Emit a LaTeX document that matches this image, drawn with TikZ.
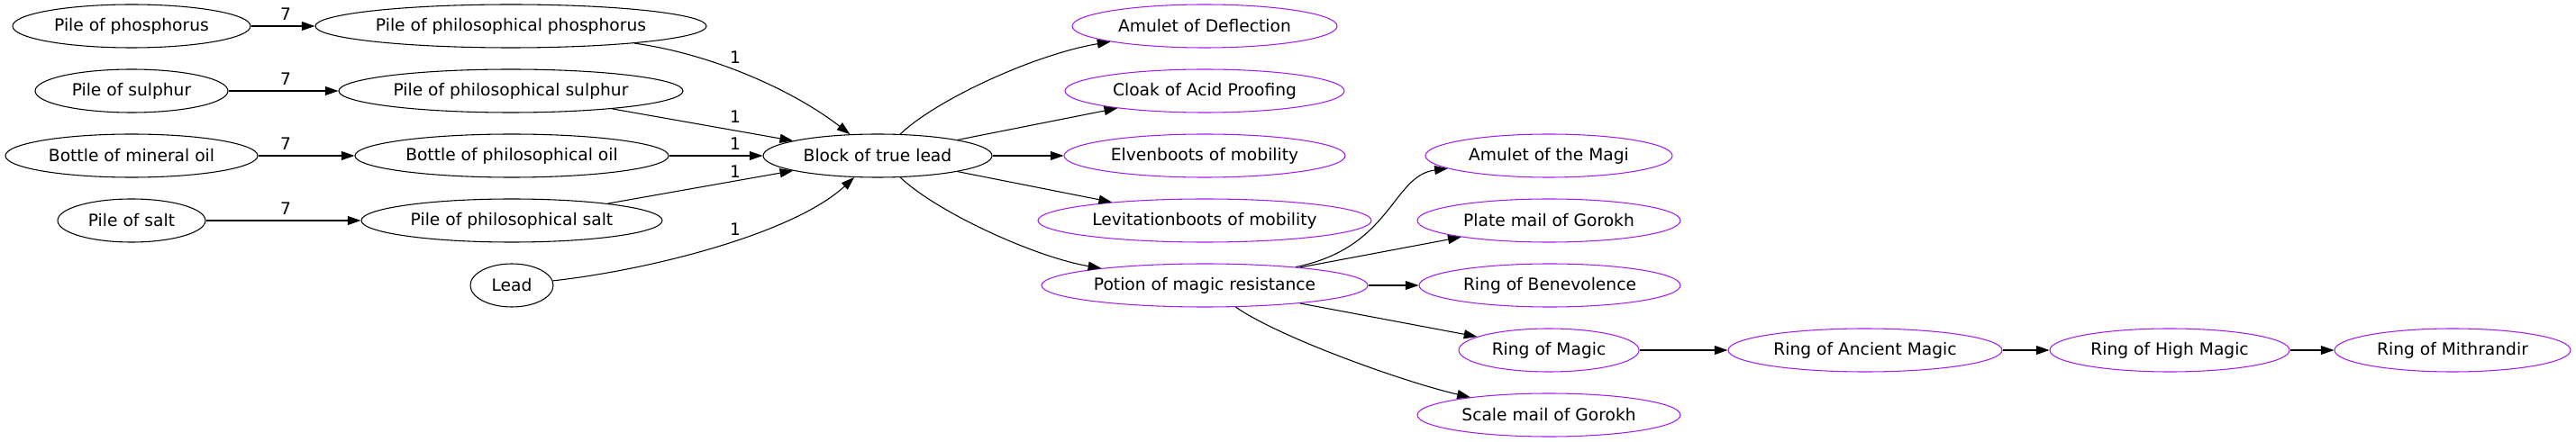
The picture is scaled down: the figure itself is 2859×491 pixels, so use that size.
\documentclass[tikz,border=0pt]{standalone}
\usepackage{fontspec}
\setmainfont{DejaVu Sans}
\usetikzlibrary{shapes.geometric,arrows.meta}
\definecolor{gvpurple}{HTML}{A020F0}
\begin{document}
\begin{tikzpicture}[x=0.75pt,y=-0.75pt,
  every node/.style={font=\fontsize{14}{16}\selectfont},
  nd/.style={ellipse,draw=black,line width=0.8pt,inner sep=0pt,minimum height=36pt,minimum width=#1*1.5pt},
  pd/.style={nd=#1,draw=gvpurple},
  lbl/.style={inner sep=0pt},
  edge/.style={line width=0.8pt,-{Triangle[length=11pt,width=7.5pt]}}]
\useasboundingbox[fill=white] (0,0) rectangle (2859,491);
% column 1
\node[nd=132] (pho) at (146,29) {Pile of phosphorus};
\node[nd=107] (sul) at (146,101) {Pile of sulphur};
\node[nd=140] (min) at (146,173) {Bottle of mineral oil};
\node[nd=82] (salt) at (146,245) {Pile of salt};
% column 2
\node[nd=217] (ppho) at (567,29) {Pile of philosophical phosphorus};
\node[nd=191] (psul) at (567,101) {Pile of philosophical sulphur};
\node[nd=174] (poil) at (568,173) {Bottle of philosophical oil};
\node[nd=167] (psalt) at (568,245) {Pile of philosophical salt};
\node[nd=46] (lead) at (568,317) {Lead};
% block
\node[nd=127] (block) at (974,173) {Block of true lead};
% column 4
\node[pd=147] (defl) at (1337,29) {Amulet of Deflection};
\node[pd=155] (cloak) at (1337,101) {Cloak of Acid Proofing};
\node[pd=156] (elven) at (1337,173) {Elvenboots of mobility};
\node[pd=185] (levit) at (1337,245) {Levitationboots of mobility};
\node[pd=181] (potion) at (1337,317) {Potion of magic resistance};
% column 5
\node[pd=137] (magi) at (1719,173) {Amulet of the Magi};
\node[pd=146] (plate) at (1719,245) {Plate mail of Gorokh};
\node[pd=145] (benev) at (1720,317) {Ring of Benevolence};
\node[pd=100] (rmagic) at (1719,389) {Ring of Magic};
\node[pd=146] (scale) at (1719,461) {Scale mail of Gorokh};
% ring chain
\node[pd=152] (ancient) at (2070,389) {Ring of Ancient Magic};
\node[pd=133] (high) at (2408,389) {Ring of High Magic};
\node[pd=131] (mith) at (2722,389) {Ring of Mithrandir};
% edges col1 -> col2
\draw[edge] (pho) -- (ppho);
\draw[edge] (sul) -- (psul);
\draw[edge] (min) -- (poil);
\draw[edge] (salt) -- (psalt);
\node[lbl] (l7a) at (317,16) {7};
\node[lbl] (l7b) at (317,88) {7};
\node[lbl] (l7c) at (317,160) {7};
\node[lbl] (l7d) at (317,232) {7};
% edges into block
\draw[edge] (ppho) .. controls (790,60) and (880,100) .. (block);
\draw[edge] (psul) -- (block);
\draw[edge] (poil) -- (block);
\draw[edge] (psalt) -- (block);
\draw[edge] (lead) .. controls (720,300) and (880,260) .. (block);
\node[lbl] (l1a) at (816,64) {1};
\node[lbl] (l1b) at (816,130) {1};
\node[lbl] (l1c) at (816,160) {1};
\node[lbl] (l1d) at (816,191) {1};
\node[lbl] (l1e) at (816,255) {1};
% edges out of block
\draw[edge] (block) .. controls (1040,110) and (1150,60) .. (defl);
\draw[edge] (block) -- (cloak);
\draw[edge] (block) -- (elven);
\draw[edge] (block) -- (levit);
\draw[edge] (block) .. controls (1040,236) and (1150,286) .. (potion);
% edges out of potion
\draw[edge] (potion) .. controls (1545,275) and (1545,195) .. (magi);
\draw[edge] (potion) -- (plate);
\draw[edge] (potion) -- (benev);
\draw[edge] (potion) -- (rmagic);
\draw[edge] (potion) .. controls (1420,375) and (1560,425) .. (scale);
% ring chain
\draw[edge] (rmagic) -- (ancient);
\draw[edge] (ancient) -- (high);
\draw[edge] (high) -- (mith);
\end{tikzpicture}
\end{document}
